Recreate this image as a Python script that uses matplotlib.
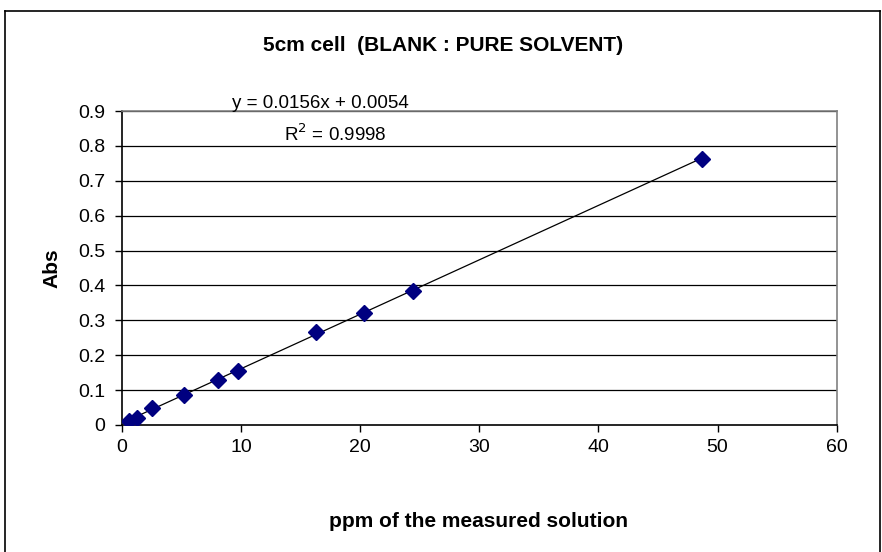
import matplotlib.pyplot as plt
from matplotlib.lines import Line2D

# data
ppm = [0.61, 1.28, 2.54, 5.23, 8.09, 9.71, 16.26, 20.32, 24.4, 48.7]
absorb = [0.011, 0.021, 0.050, 0.085, 0.129, 0.156, 0.266, 0.322, 0.385, 0.762]
slope = 0.0156
intercept = 0.0054
x_ticks = [0, 10, 20, 30, 40, 50, 60]
y_ticks = [0, 0.1, 0.2, 0.3, 0.4, 0.5, 0.6, 0.7, 0.8, 0.9]

plt.rcParams['font.family'] = ['Liberation Sans', 'DejaVu Sans']

fig = plt.figure(figsize=(8.82, 5.52), dpi=100)
ax = fig.add_axes([0.1383, 0.2301, 0.8103, 0.5688])

# gridlines
for yt in y_ticks[1:]:
    ax.axhline(yt, color='black', lw=0.9, zorder=1)

# linear trend line
x_fit = [min(ppm), max(ppm)]
y_fit = [slope * v + intercept for v in x_fit]
ax.plot(x_fit, y_fit, color='black', lw=0.9, zorder=2)

ax.plot(ppm, absorb, linestyle='none', marker='D', markersize=8.5,
        color='#000080', zorder=3)

ax.set_xlim(0, 60)
ax.set_ylim(0, 0.9)
ax.set_xticks(x_ticks)
ax.set_yticks(y_ticks)
ax.set_xticklabels([str(v) for v in x_ticks])
ax.set_yticklabels(['0'] + ['%.1f' % v for v in y_ticks[1:]])
ax.tick_params(direction='out', length=5, width=1, labelsize=14, pad=7)
ax.tick_params(axis='x', pad=5)

ax.spines['left'].set_color('black')
ax.spines['bottom'].set_color('black')
ax.spines['top'].set_color('#808080')
ax.spines['right'].set_color('#808080')
for s in ax.spines.values():
    s.set_linewidth(1.2)

fig.text(0.502, 0.918, '5cm cell  (BLANK : PURE SOLVENT)', ha='center',
         va='center', fontsize=15, fontweight='bold')
fig.text(0.543, 0.055, 'ppm of the measured solution', ha='center',
         va='center', fontsize=15, fontweight='bold')
fig.text(0.059, 0.515, 'Abs', ha='center', va='center', rotation=90,
         fontsize=15, fontweight='bold')

fig.text(0.363, 0.812, 'y = 0.0156x + 0.0054', ha='center', va='center',
         fontsize=13.5)
fig.text(0.38, 0.757, 'R$^2$ = 0.9998', ha='center', va='center',
         fontsize=13.5)

# outer chart border
for xs, ys in [([0.0057, 0.0057], [0.98, -0.1]),
               ([0.0057, 0.9977], [0.98, 0.98]),
               ([0.9977, 0.9977], [0.98, -0.1])]:
    fig.add_artist(Line2D(xs, ys, color='black', lw=1.2, transform=fig.transFigure))

fig.savefig('out.png', dpi=100)
